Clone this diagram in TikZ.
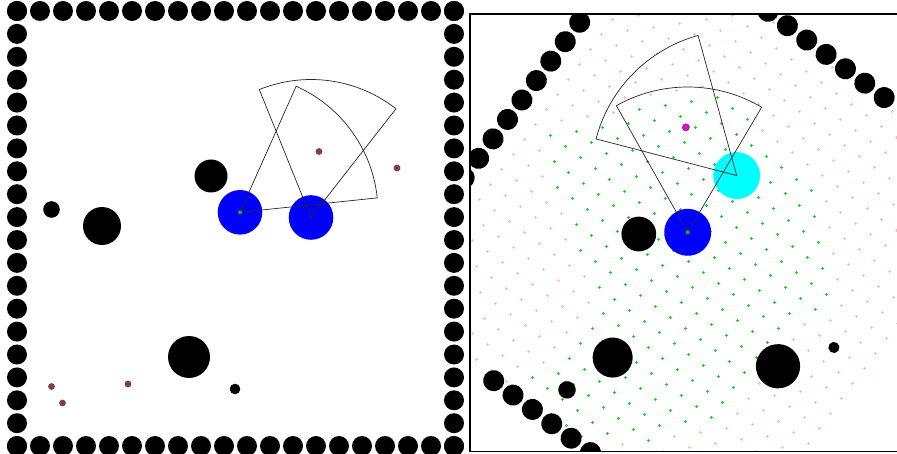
\documentclass[tikz,border=0pt]{standalone}
\definecolor{brownd}{RGB}{128,64,64}
\definecolor{pinkd}{RGB}{255,185,185}
\definecolor{greend}{RGB}{0,230,0}
\definecolor{bluer}{RGB}{0,0,255}
\definecolor{cyanr}{RGB}{0,255,255}
\definecolor{magr}{RGB}{235,0,235}
% green part of the sample grid: for each row j (0..23) the first and last column
\def\glo{{99,99,13,12,11,11,10,9,9,8,1,1,1,1,2,3,3,5,6,14,99,99,99,99}}
\def\ghi{{0,0,13,14,15,17,18,19,20,20,20,19,19,19,19,19,18,17,16,15,0,0,0,0}}
\begin{document}
\begin{tikzpicture}[x=1pt,y=-1pt,
  world/.style={shift={(687.7,232.3)},scale=1.053,rotate=53.4,shift={(-240,-212.3)}},
  wallc/.style={fill=black},
  obst/.style={fill=black},
  robotA/.style={fill=bluer},
  robotB/.style={fill=cyanr},
  fov/.style={draw=black!85,line width=0.7pt},
  target/.style={fill=brownd},
  found/.style={fill=magr,draw=brownd,line width=0.8pt},
  centre/.style={fill=green!75!black},
  gp/.style={line width=1pt},
]
\useasboundingbox (0,0) rectangle (897,454);
\fill[white] (0,0) rectangle (897,454);

% ---------------- left panel: the world ----------------
\foreach \k in {0,...,19}{
  \fill[wallc] ({17+23*\k},11) circle[radius=10];
  \fill[wallc] ({17+23*\k},446) circle[radius=10];
  \fill[wallc] (17,{11+22.9*\k}) circle[radius=10];
  \fill[wallc] (454,{11+22.9*\k}) circle[radius=10];
}
\fill[obst] (211,176) circle[radius=16.5];
\fill[obst] (51.5,209.5) circle[radius=8.3];
\fill[obst] (102,226) circle[radius=19];
\fill[obst] (189,357) circle[radius=21];
\fill[obst] (235,389) circle[radius=5.3];
\fill[robotA] (240,212.3) circle[radius=22.3];
\fill[robotA] (311,217.5) circle[radius=22.3];
\draw[fov] (240,212.3) -- ++(-66:138) arc[start angle=-66,end angle=-6,radius=138] -- cycle;
\draw[fov] (311,217.5) -- ++(-112:138) arc[start angle=-112,end angle=-52,radius=138] -- cycle;
\foreach \p in {(319,151.5),(397,168),(51.5,386.5),(62.5,403),(128,384)}{
  \fill[target] \p circle[radius=3.4];
}
\fill[centre] (240,212.3) circle[radius=2];

% ---------------- right panel: robot view ----------------
\begin{scope}
\clip (470,14) rectangle (900,451.7);
% sample grid (each mark snapped to the pixel grid)
\foreach \i in {1,...,25}{\foreach \j in {1,...,23}{
  \begin{scope}[world]\coordinate (g) at ({6.1+17.68*\i},{17.3+17.68*\j});\end{scope}
  \path (g); \pgfgetlastxy{\gx}{\gy}
  \pgfmathsetmacro\rx{round(\gx-0.5)+0.5}
  \pgfmathsetmacro\ry{round(\gy-0.5)+0.5}
  \pgfmathtruncatemacro\lo{\glo[\j]}
  \pgfmathtruncatemacro\hi{\ghi[\j]}
  \pgfmathtruncatemacro\isg{((\i>=\lo && \i<=\hi) || (\j==9 && \i<=2)) ? 1 : 0}
  \ifnum\isg=1 \def\gcol{greend}\else\def\gcol{pinkd}\fi
  \draw[\gcol,gp] (\rx pt,\ry pt) +(-1.5pt,0pt) -- +(1.5pt,0pt)
                  (\rx pt,\ry pt) +(0pt,-1.5pt) -- +(0pt,1.5pt);
}}
\begin{scope}[world]
  \foreach \k in {6,...,14}{\fill[wallc] ({17+23*\k},11) circle[radius=10];}
  \foreach \k in {6,...,12}{\fill[wallc] (454,{11+22.9*\k}) circle[radius=10];}
  \foreach \k in {6,...,11}{\fill[wallc] (17,{11+22.9*\k}) circle[radius=10];}
  \fill[obst] (211,176) circle[radius=16.5];
  \fill[obst] (51.5,209.5) circle[radius=8.3];
  \fill[obst] (102,226) circle[radius=19];
  \fill[obst] (189,357) circle[radius=21];
  \fill[obst] (235,389) circle[radius=5.3];
  \fill[robotA] (240,212.3) circle[radius=22.3];
  \fill[robotB] (311,217.5) circle[radius=22.3];
  \draw[fov] (240,212.3) -- ++(-66:138) arc[start angle=-66,end angle=-6,radius=138] -- cycle;
  \draw[fov] (311,217.5) -- ++(-112:138) arc[start angle=-112,end angle=-52,radius=138] -- cycle;
  \filldraw[found] (319,151.5) circle[radius=3.3];
  \fill[centre] (240,212.3) circle[radius=2];
\end{scope}
\end{scope}
\draw[line width=1.5pt] (470,14) rectangle (900,451.7);
\end{tikzpicture}
\end{document}
